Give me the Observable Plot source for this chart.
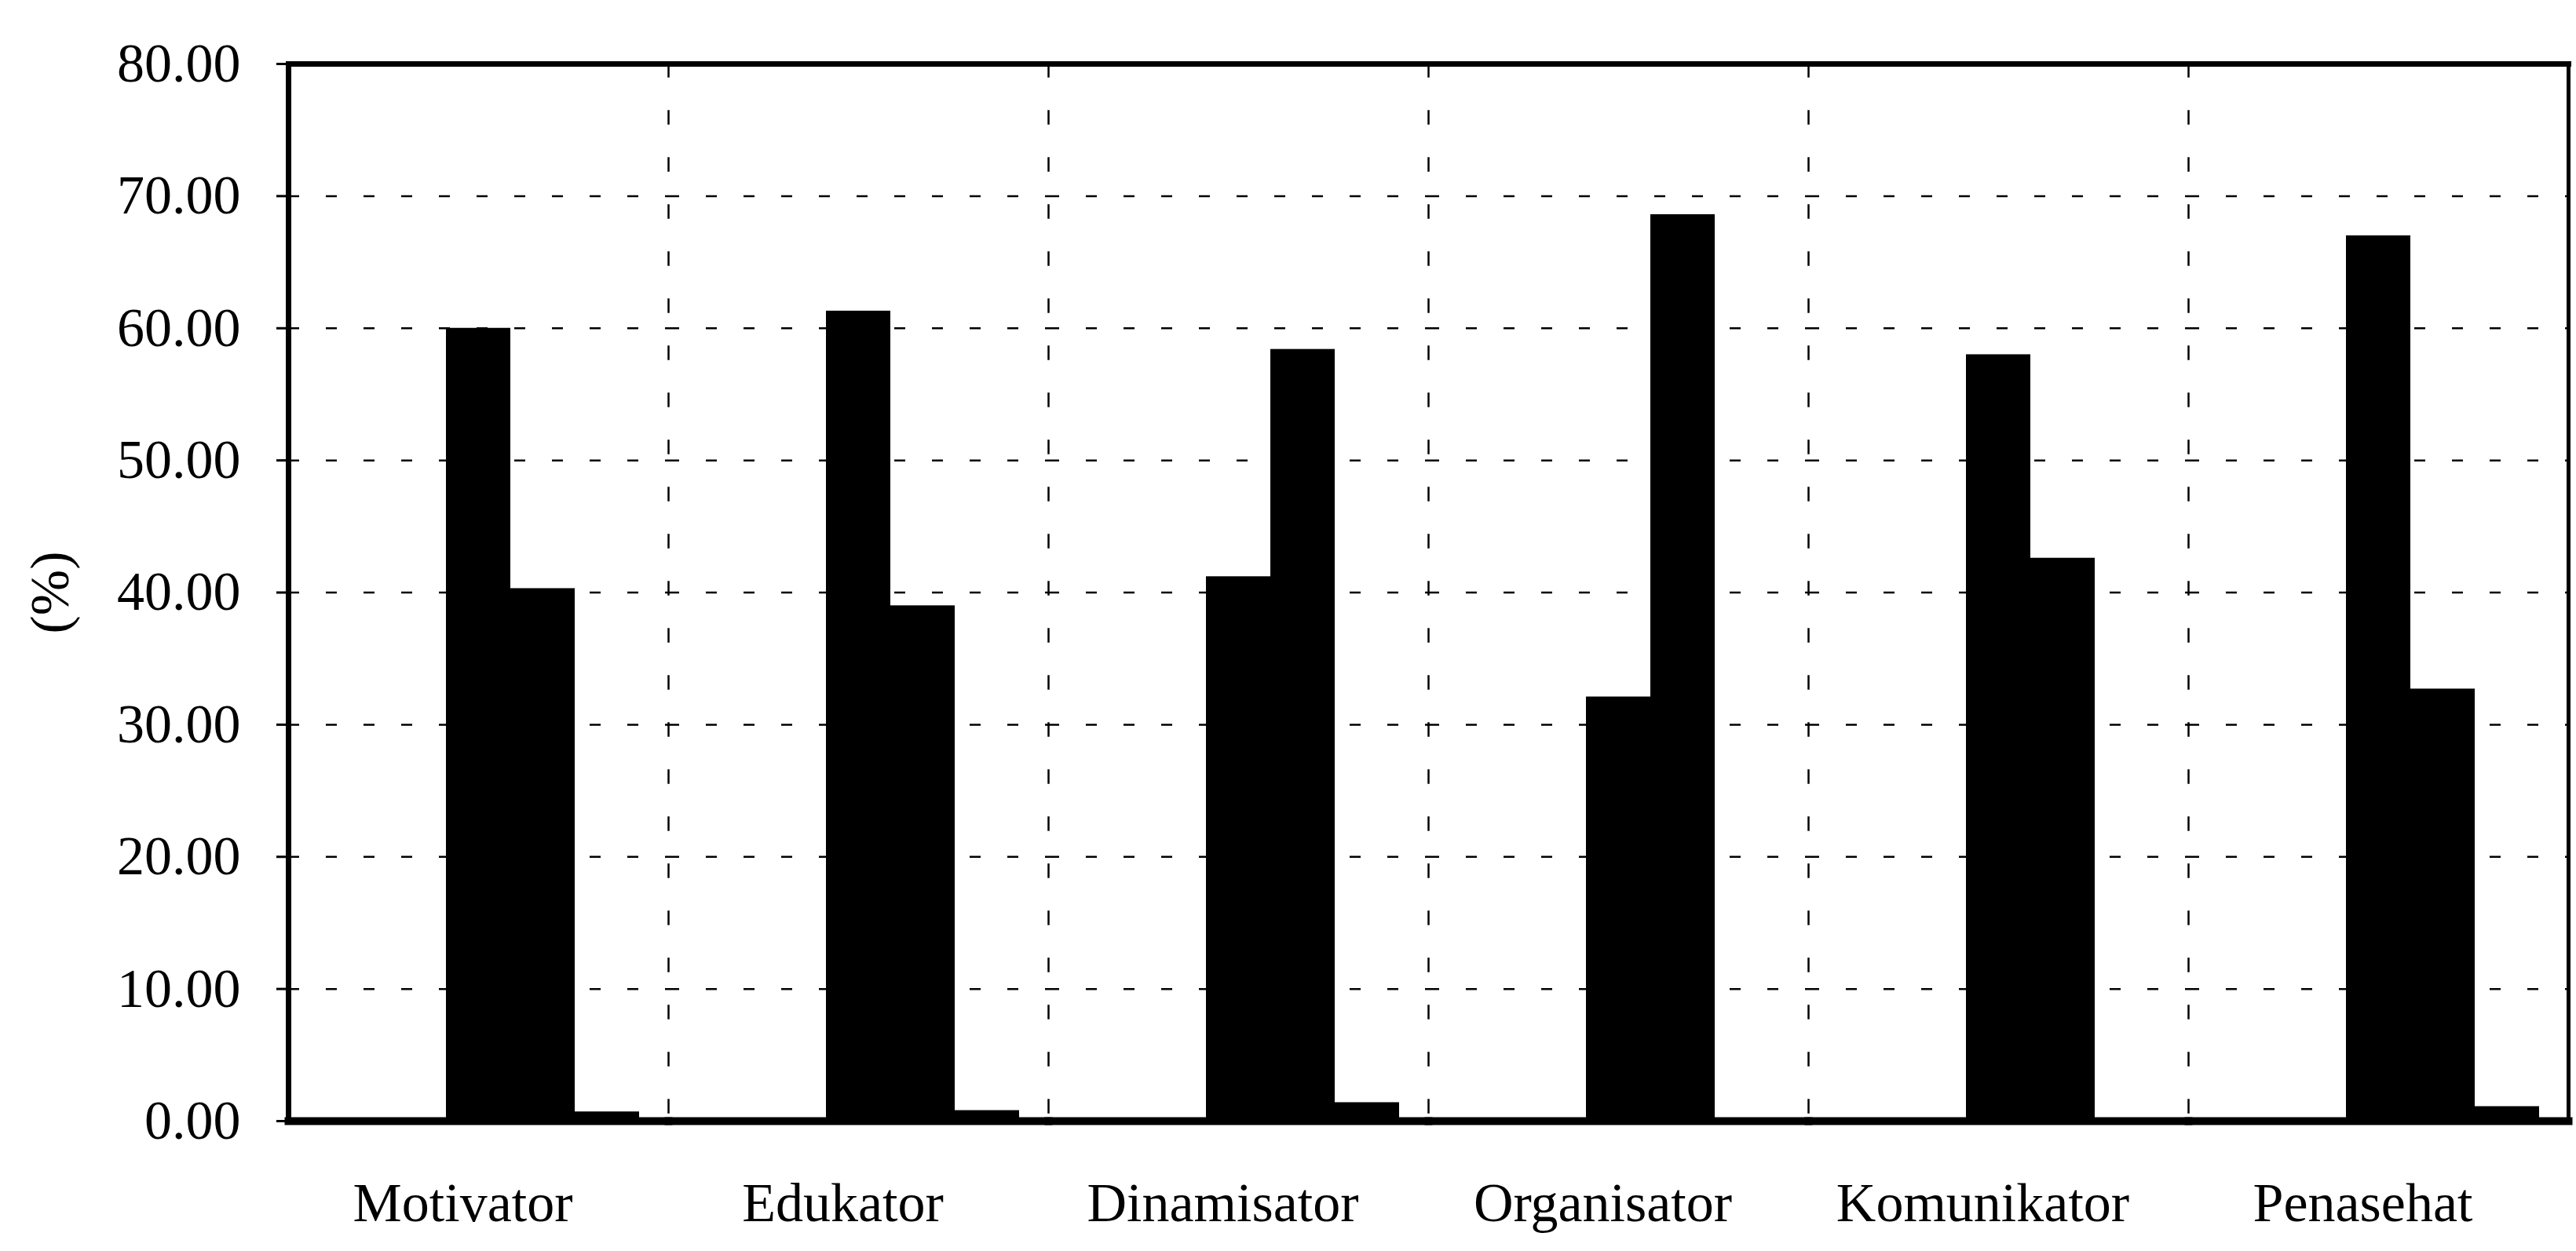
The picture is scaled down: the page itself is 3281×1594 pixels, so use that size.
<!DOCTYPE html>
<html><head><meta charset="utf-8">
<script src="https://cdn.jsdelivr.net/npm/d3@7"></script>
<script src="https://cdn.jsdelivr.net/npm/@observablehq/plot@0.6"></script>
<style>
html,body{margin:0;padding:0;background:#fff;}
#chart svg{display:block;}
</style></head><body><div id="chart"></div>
<script>
const categories = ["Motivator","Edukator","Dinamisator","Organisator","Komunikator","Penasehat"];
const series = ["Seri 1","Seri 2","Seri 3","Seri 4","Seri 5"];
const s1 = [0, 0, 0, 0, 0, 0];
const s2 = [0, 0, 0, 0, 0, 0];
const s3 = [60.0, 61.3, 41.2, 32.1, 58.0, 67.0];
const s4 = [40.3, 39.0, 58.4, 68.6, 42.6, 32.7];
const s5 = [0.7, 0.8, 1.4, 0, 0, 1.1];
const yTicks = [0, 10, 20, 30, 40, 50, 60, 70, 80];
const gridTicks = [10, 20, 30, 40, 50, 60, 70];
const yLabel = "(%)";

const seriesValues = [s1, s2, s3, s4, s5];
const data = [];
categories.forEach((c, i) => series.forEach((s, j) => data.push({category: c, series: s, value: seriesValues[j][i]})));

const chart = Plot.plot({
  width: 3281, height: 1594,
  marginLeft: 365, marginRight: 9, marginTop: 81, marginBottom: 166,
  style: {fontFamily: "'Liberation Serif', 'Times New Roman', serif", fontSize: "70px", color: "#000", background: "#fff"},
  fx: {domain: categories, padding: 0, label: null, axis: null},
  x: {domain: series, paddingInner: 0, paddingOuter: 0.45, axis: null},
  y: {domain: [0, 80], label: null},
  marks: [
    Plot.gridY(gridTicks, {stroke: "#000", strokeOpacity: 1, strokeWidth: 2.5, strokeDasharray: "14,34"}),
    Plot.frame({anchor: "left", stroke: "#000", strokeWidth: 2.5, strokeDasharray: "16,44"}),
    Plot.barY(data, {fx: "category", x: "series", y: "value", fill: "#000"}),
    Plot.frame({anchor: "top", stroke: "#000", strokeWidth: 7}),
    Plot.frame({anchor: "bottom", stroke: "#000", strokeWidth: 10}),
    Plot.frame({anchor: "left", facetAnchor: "left", stroke: "#000", strokeWidth: 7}),
    Plot.frame({anchor: "right", facetAnchor: "right", stroke: "#000", strokeWidth: 5}),
    Plot.axisY(yTicks, {tickFormat: d => d.toFixed(2), tickSize: 15, tickPadding: 46, strokeWidth: 3,
      label: yLabel, labelAnchor: "center", labelOffset: 330, labelArrow: "none"}),
    Plot.axisFx({anchor: "bottom", tickSize: 0, tickPadding: 78, dx: -20, label: null})
  ]
});
document.getElementById("chart").appendChild(chart);
</script></body></html>
